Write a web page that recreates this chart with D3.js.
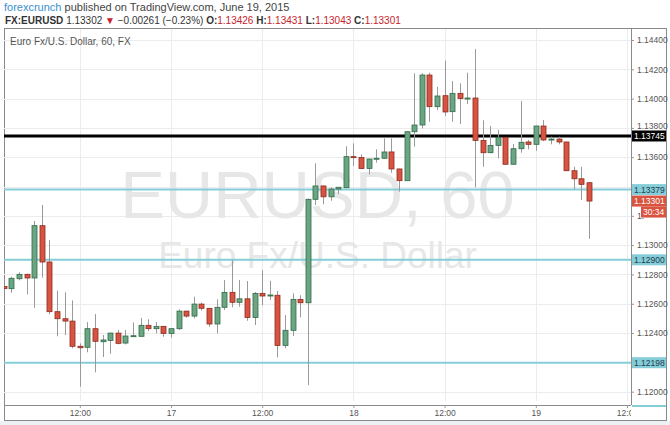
<!DOCTYPE html>
<html>
<head>
<meta charset="utf-8">
<script src="https://cdn.jsdelivr.net/npm/d3@7"></script>
<style>
  body { margin: 0; background: #fff; font-family: "Liberation Sans", Arial, sans-serif; }
  #chart { width: 670px; height: 425px; }
</style>
</head>
<body>
<div id="chart"></div>
<script>
// hourly EUR/USD candles, 16 Jun 02:00 -> 19 Jun 07:00
var startHour = new Date(2015, 5, 16, 2);

var open = [
  1.12718,1.12703,1.12771,1.12801,1.12776,1.13133,1.12885,1.12546,1.12498,1.12482,
  1.12310,1.12303,1.12430,1.12341,1.12350,1.12400,1.12332,1.12378,1.12378,1.12453,
  1.12430,1.12446,1.12398,1.12430,1.12550,1.12516,1.12598,1.12569,1.12462,1.12576,
  1.12678,1.12610,1.12634,1.12507,1.12671,1.12653,1.12658,1.12316,1.12419,1.12630,
  1.12607,1.13313,1.13404,1.13330,1.13383,1.13392,1.13604,1.13598,1.13524,1.13588,
  1.13593,1.13636,1.13520,1.13440,1.13774,1.13820,1.14161,1.13945,1.14020,1.13911,
  1.14036,1.14000,1.14004,1.13715,1.13631,1.13681,1.13736,1.13552,1.13658,1.13704,
  1.13688,1.13813,1.13718,1.13724,1.13704,1.13508,1.13453,1.13426];
var high = [
  1.12728,1.12785,1.12815,1.12806,1.13165,1.13274,1.13035,1.12689,1.12678,1.12623,
  1.12330,1.12475,1.12530,1.12387,1.12403,1.12421,1.12421,1.12473,1.12503,1.12494,
  1.12475,1.12449,1.12432,1.12562,1.12552,1.12648,1.12607,1.12571,1.12630,1.12762,
  1.12899,1.12762,1.12755,1.12680,1.12830,1.12757,1.12687,1.12523,1.12671,1.12658,
  1.13318,1.13558,1.13406,1.13395,1.13397,1.13675,1.13695,1.13620,1.13590,1.13654,
  1.13729,1.13729,1.13522,1.13776,1.14173,1.14173,1.14177,1.14080,1.14259,1.14120,
  1.14104,1.14177,1.14339,1.13852,1.13813,1.13786,1.13738,1.13690,1.13984,1.13718,
  1.13815,1.13854,1.13740,1.13740,1.13706,1.13535,1.13535,1.13431];
var low = [
  1.12694,1.12675,1.12760,1.12664,1.12573,1.12778,1.12528,1.12378,1.12387,1.12296,
  1.12034,1.12269,1.12132,1.12237,1.12259,1.12323,1.12323,1.12375,1.12375,1.12414,
  1.12398,1.12375,1.12368,1.12421,1.12505,1.12501,1.12553,1.12443,1.12398,1.12557,
  1.12576,1.12580,1.12484,1.12455,1.12591,1.12626,1.12234,1.12296,1.12380,1.12507,
  1.12045,1.13274,1.13279,1.13303,1.13350,1.13390,1.13540,1.13522,1.13483,1.13563,
  1.13589,1.13494,1.13365,1.13438,1.13672,1.13797,1.13842,1.13922,1.13881,1.13842,
  1.13827,1.13963,1.13395,1.13535,1.13627,1.13593,1.13550,1.13550,1.13631,1.13654,
  1.13644,1.13709,1.13688,1.13688,1.13505,1.13381,1.13308,1.13043];
var close = [
  1.12704,1.12774,1.12801,1.12776,1.13133,1.12885,1.12546,1.12498,1.12482,1.12310,
  1.12300,1.12430,1.12344,1.12353,1.12400,1.12330,1.12380,1.12382,1.12453,1.12430,
  1.12446,1.12398,1.12430,1.12550,1.12516,1.12598,1.12569,1.12462,1.12576,1.12678,
  1.12610,1.12634,1.12507,1.12671,1.12653,1.12660,1.12316,1.12419,1.12630,1.12607,
  1.13313,1.13404,1.13330,1.13383,1.13395,1.13604,1.13597,1.13523,1.13588,1.13593,
  1.13636,1.13520,1.13440,1.13774,1.13820,1.14161,1.13945,1.14018,1.13909,1.14036,
  1.14001,1.14004,1.13715,1.13631,1.13681,1.13736,1.13552,1.13658,1.13702,1.13688,
  1.13813,1.13718,1.13724,1.13704,1.13508,1.13453,1.13415,1.13301];

// horizontal levels drawn on the chart
var cyanLevels = [1.13379, 1.12900, 1.12198];
var blackLevel = 1.13745;
var lastPrice = 1.13301;
var countdown = "30:34";

// axis ticks (1.122 and 1.134 sit under level tags, 1.132 is mostly covered)
var yGrid = [1.120, 1.122, 1.124, 1.126, 1.128, 1.130, 1.132, 1.134, 1.136, 1.138, 1.140, 1.142, 1.144];
var yTickText = ["1.12000", "", "1.12400", "1.12600", "1.12800", "1.13000", "1.", "", "1.13600", "1.13800", "1.14000", "1.14200", "1.14400"];
var xTicks = [new Date(2015,5,16,12), new Date(2015,5,17,0), new Date(2015,5,17,12), new Date(2015,5,18,0),
              new Date(2015,5,18,12), new Date(2015,5,19,0), new Date(2015,5,19,12)];
var xTickLabels = ["12:00", "17", "12:00", "18", "12:00", "19", "12:00"];

var data = open.map(function(o, i) {
  return { t: d3.timeHour.offset(startHour, i), o: o, h: high[i], l: low[i], c: close[i] };
});

var margin = {top: 29, right: 39, bottom: 20, left: 4},
    width = 670 - margin.left - margin.right,
    height = 425 - margin.top - margin.bottom;

var svg = d3.select("#chart")
  .append("svg")
    .attr("width", 670)
    .attr("height", 425);

// header
var head = svg.append("text").attr("x", 4).attr("y", 11).style("font-size", "11px");
head.append("tspan").attr("fill", "#3a8fd0").text("forexcrunch");
head.append("tspan").attr("fill", "#444").text(" published on TradingView.com, June 19, 2015");

var line2 = svg.append("text").attr("x", 5).attr("y", 24).style("font-size", "10px").attr("fill", "#333");
line2.append("tspan").attr("font-weight", "bold").text("FX:EURUSD ");
line2.append("tspan").text("1.13302 ");
line2.append("tspan").attr("fill", "#c8222a").text("\u25BC");
line2.append("tspan").text(" \u22120.00261 (\u22120.23%) ");
[["O:", "1.13426"], ["H:", "1.13431"], ["L:", "1.13043"], ["C:", "1.13301"]].forEach(function(p) {
  line2.append("tspan").attr("font-weight", "bold").text(" " + p[0]);
  line2.append("tspan").attr("fill", "#c8222a").text(p[1]);
});

// bottom strip + frame
svg.append("rect").attr("x", 0).attr("y", 421).attr("width", 670).attr("height", 4).attr("fill", "#eef1f4");
svg.append("rect")
  .attr("x", 4.5).attr("y", 28.5).attr("width", 662).attr("height", 392)
  .attr("fill", "#fff").attr("stroke", "#8a8a8a");

var g = svg.append("g")
  .attr("transform", "translate(" + margin.left + "," + margin.top + ")");

var x = d3.scaleTime()
  .domain([startHour, d3.timeHour.offset(startHour, open.length - 1)])
  .range([-0.2, 585]);

var y = d3.scaleLinear()
  .domain([1.120, 1.144])
  .range([362.7, 11]);

g.append("clipPath").attr("id", "plotclip")
  .append("rect").attr("x", 0).attr("y", 0).attr("width", width).attr("height", height - 4);

var plot = g.append("g").attr("clip-path", "url(#plotclip)");

// grid
plot.selectAll("hgrid").data(yGrid).enter().append("line")
  .attr("x1", 0).attr("x2", width)
  .attr("y1", function(d) { return Math.round(y(d)) + 0.5; })
  .attr("y2", function(d) { return Math.round(y(d)) + 0.5; })
  .attr("stroke", "#ececec");
plot.selectAll("vgrid").data(xTicks).enter().append("line")
  .attr("y1", 0).attr("y2", height)
  .attr("x1", function(d) { return Math.round(x(d)) + 0.5; })
  .attr("x2", function(d) { return Math.round(x(d)) + 0.5; })
  .attr("stroke", "#ececec");

// watermark
plot.append("text")
  .attr("x", width / 2).attr("y", 218 - margin.top)
  .attr("text-anchor", "middle")
  .style("font-size", "67px").attr("fill", "#e7e7e7")
  .text("EURUSD, 60");
plot.append("text")
  .attr("x", width / 2).attr("y", 268 - margin.top)
  .attr("text-anchor", "middle")
  .style("font-size", "37px").attr("fill", "#e7e7e7")
  .text("Euro Fx/U.S. Dollar");

plot.append("text")
  .attr("x", 6).attr("y", 16)
  .style("font-size", "10px").attr("fill", "#555")
  .text("Euro Fx/U.S. Dollar, 60, FX");

// levels
plot.selectAll("cyanline").data(cyanLevels).enter().append("line")
  .attr("x1", 0).attr("x2", width)
  .attr("y1", function(d) { return y(d); })
  .attr("y2", function(d) { return y(d); })
  .attr("stroke", "#84cdd9").attr("stroke-width", 2);
plot.append("line")
  .attr("x1", 0).attr("x2", width)
  .attr("y1", y(blackLevel)).attr("y2", y(blackLevel))
  .attr("stroke", "#000").attr("stroke-width", 3);

// wicks
plot.selectAll("wick").data(data).enter().append("line")
  .attr("x1", function(d) { return Math.round(x(d.t)) + 0.5; })
  .attr("x2", function(d) { return Math.round(x(d.t)) + 0.5; })
  .attr("y1", function(d) { return y(d.h); })
  .attr("y2", function(d) { return y(d.l); })
  .attr("stroke", "#9a9a9a");

// bodies
plot.selectAll("body").data(data).enter().append("rect")
  .attr("x", function(d) { return Math.round(x(d.t)) - 2; })
  .attr("width", 5)
  .attr("y", function(d) { return y(Math.max(d.o, d.c)); })
  .attr("height", function(d) { return Math.max(1, Math.abs(y(d.o) - y(d.c))); })
  .attr("fill", function(d) { return d.c >= d.o ? "#6ba583" : "#d75442"; })
  .attr("stroke", function(d) { return d.c >= d.o ? "#2f6b47" : "#8e2a1d"; })
  .attr("stroke-width", 0.8);

// y axis (right)
var yAxis = g.append("g")
  .attr("transform", "translate(" + width + ",0)")
  .call(d3.axisRight(y).tickValues(yGrid).tickSize(3).tickPadding(3)
    .tickFormat(function(d, i) { return yTickText[i]; }));
yAxis.select(".domain").attr("stroke", "#8a8a8a").attr("d", "M0.5,0V" + height);
yAxis.selectAll(".tick line").attr("stroke", "#999");
yAxis.selectAll(".tick text")
  .attr("dy", function(d) { return d === 1.138 ? "0.1em" : "0.32em"; })
  .style("font-size", "8.5px").attr("fill", "#555")
  .style("font-family", "'Liberation Sans', Arial, sans-serif");

// x axis
var xAxis = g.append("g")
  .attr("transform", "translate(0," + height + ")")
  .attr("clip-path", "url(#xclip)")
  .call(d3.axisBottom(x).tickValues(xTicks).tickSize(3).tickPadding(2)
    .tickFormat(function(d, i) { return xTickLabels[i]; }));
g.append("clipPath").attr("id", "xclip")
  .append("rect").attr("x", 0).attr("y", -1).attr("width", width).attr("height", 20);
xAxis.select(".domain").attr("stroke", "#8a8a8a").attr("d", "M0," + 0.5 + "H" + width);
xAxis.selectAll(".tick line").attr("stroke", "#999");
xAxis.selectAll("text").style("font-size", "8.5px").attr("fill", "#555")
  .style("font-family", "'Liberation Sans', Arial, sans-serif");

// level labels on the price axis
function priceTag(v, bg, fg, dy, label, x0) {
  var yy = y(v) + (dy || 0);
  var left = x0 || width + 1;
  g.append("rect")
    .attr("x", left).attr("y", yy - 5.5)
    .attr("width", 662 - left).attr("height", 11)
    .attr("fill", bg);
  g.append("text")
    .attr("x", left + 2).attr("y", yy + 3)
    .style("font-size", "8.5px").attr("fill", fg)
    .text(label || d3.format(".5f")(v));
}
cyanLevels.forEach(function(v) { priceTag(v, "#84cdd9", "#24404c"); });
priceTag(blackLevel, "#000", "#fff");
priceTag(lastPrice, "#d9533f", "#fff");
priceTag(lastPrice, "#d9533f", "#fff", 11, countdown, width + 10);

g.append("line")
  .attr("x1", width + 1).attr("x2", 662)
  .attr("y1", height + 1).attr("y2", height + 1)
  .attr("stroke", "#84cdd9").attr("stroke-width", 2);
</script>
</body>
</html>
